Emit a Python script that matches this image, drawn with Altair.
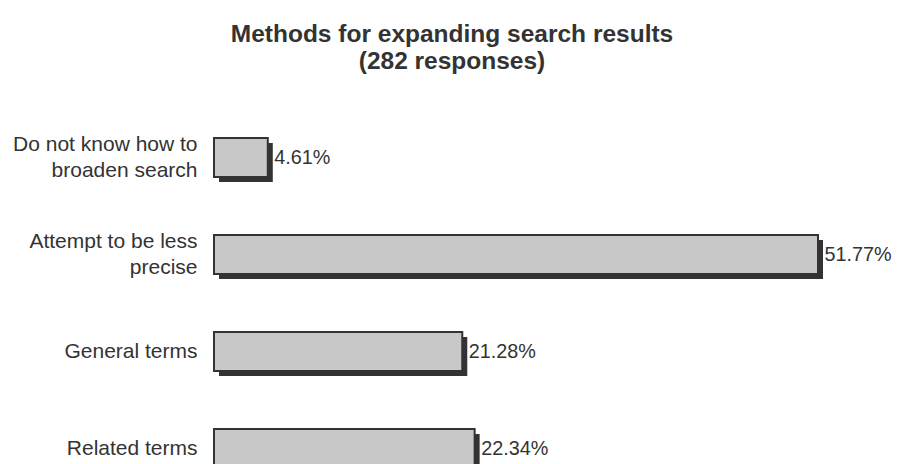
import altair as alt
import pandas as pd

categories = [
    "Do not know how to\nbroaden search",
    "Attempt to be less\nprecise",
    "General terms",
    "Related terms",
]
values = [4.61, 51.77, 21.28, 22.34]
value_labels = ["4.61%", "51.77%", "21.28%", "22.34%"]

df = pd.DataFrame({"category": categories, "value": values, "label": value_labels})

FONT = "Liberation Sans"
TXT = "#333333"

y_enc = alt.Y(
    "category:N",
    sort=categories,
    scale=alt.Scale(paddingInner=0.6, paddingOuter=0.3),
    axis=alt.Axis(
        title=None,
        domain=False,
        ticks=False,
        labelExpr="split(datum.label, '\\n')",
        labelFont=FONT,
        labelFontSize=21,
        labelColor=TXT,
        labelPadding=17,
        labelLineHeight=26,
        labelLimit=400,
        labelBaseline="middle",
        labelOffset={
            "condition": {"test": "indexof(datum.value, '\\n') >= 0", "value": -13},
            "value": 0,
        },
    ),
)
x_enc = alt.X(
    "value:Q",
    scale=alt.Scale(domain=[0, 51.77], nice=False, clamp=False),
    axis=None,
)

shadow = alt.Chart(df).mark_bar(
    color="#333333", xOffset=5, yOffset=5
).encode(x=x_enc, y=y_enc)

bars = alt.Chart(df).mark_bar(
    fill="#c8c8c8", stroke="#333333", strokeWidth=2
).encode(x=x_enc, y=y_enc)

text = alt.Chart(df).mark_text(
    align="left", baseline="middle", dx=6.5, font=FONT, fontSize=19.8, color=TXT
).encode(x=x_enc, y=y_enc, text="label:N")

chart = (
    alt.layer(shadow, bars, text)
    .properties(
        width=604,
        height=388,
        autosize=alt.AutoSizeParams(type="none"),
        padding={"left": 206, "top": 101, "right": 74, "bottom": 10},
        title=alt.TitleParams(
            text=["Methods for expanding search results", "(282 responses)"],
            font=FONT,
            fontSize=24.5,
            fontWeight="bold",
            color=TXT,
            anchor="middle",
            dx=-64,
            dy=-31,
            lineHeight=27,
        ),
    )
    .configure_view(stroke=None)
)

chart.save("out.html", embed_options={"renderer": "svg", "actions": False})
